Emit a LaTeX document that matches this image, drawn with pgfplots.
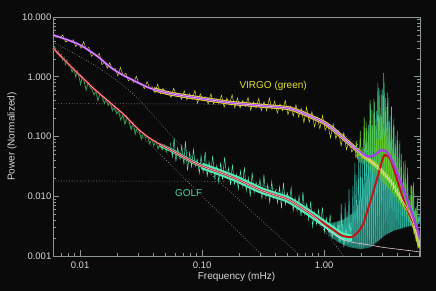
\documentclass[border=0pt]{standalone}
\usepackage{pgfplots}
\pgfplotsset{compat=1.18}
\usepackage{fontspec}
\setmainfont{Liberation Sans}
\definecolor{bg}{RGB}{10,10,10}
\definecolor{axg}{RGB}{140,150,150}
\definecolor{tickt}{RGB}{215,215,215}
\definecolor{golfc}{RGB}{85,235,185}
\definecolor{golfl}{RGB}{70,215,165}
\definecolor{golfg}{RGB}{45,160,85}
\definecolor{virgoy}{RGB}{225,225,45}
\definecolor{purp}{RGB}{165,60,240}
\definecolor{redf}{RGB}{195,20,20}
\definecolor{pinkc}{RGB}{240,195,225}
\definecolor{spkg}{RGB}{100,200,40}
\definecolor{spkt}{RGB}{50,190,170}
\definecolor{dotg}{RGB}{150,150,150}
\begin{document}
\begin{tikzpicture}
\fill[bg] (-53pt,-35pt) rectangle (383pt,256pt);
\begin{axis}[
  scale only axis, width=367pt, height=239pt,
  xmode=log, ymode=log, xmin=0.006, xmax=6.1, ymin=0.001, ymax=10,
  axis line style={draw=axg, line width=0.6pt},
  every tick/.style={draw=axg, line width=0.5pt},
  tick align=inside, xtick pos=left, ytick pos=both,
  major tick length=6pt, minor tick length=3.5pt,
  xtick={0.01,0.1,1}, xticklabels={0.01,0.10,1.00},
  ytick={0.001,0.01,0.1,1,10}, yticklabels={0.001,0.010,0.100,1.000,10.000},
  minor xtick={0.006,0.007,0.008,0.009,0.02,0.03,0.04,0.05,0.06,0.07,0.08,0.09,0.2,0.3,0.4,0.5,0.6,0.7,0.8,0.9,2,3,4,5,6},
  minor ytick={0.002,0.003,0.004,0.005,0.006,0.007,0.008,0.009,0.02,0.03,0.04,0.05,0.06,0.07,0.08,0.09,0.2,0.3,0.4,0.5,0.6,0.7,0.8,0.9,2,3,4,5,6,7,8,9},
  tick label style={font=\fontsize{9.5}{11}\selectfont, text=tickt},
  yticklabel style={inner sep=1.5pt},
  xticklabel style={yshift=-2pt},
  xlabel={Frequency (mHz)}, ylabel={Power (Normalized)},
  label style={font=\fontsize{10}{12}\selectfont, text=tickt},
  xlabel style={at={(axis description cs:0.5,-0.0879)}, anchor=center},
  ylabel style={at={(axis description cs:-0.1117,0.5)}, anchor=center},
]
% Harvey components (dotted)
\addplot[dotg, line width=0.6pt, dash pattern=on 0.7pt off 2pt] coordinates {(0.006,0.355) (0.1,0.351) (0.3,0.323) (0.5,0.279) (0.7,0.232) (1.0,0.170) (1.5,0.103) (2.0,0.0665) (3.0,0.033) (4.0,0.0193) (5.0,0.0126) (6.1,0.0086)};
\addplot[dotg, line width=0.6pt, dash pattern=on 0.7pt off 2pt] coordinates {(0.006,0.018) (0.1,0.0179) (0.2,0.0172) (0.3,0.0156) (0.4,0.0132) (0.5,0.0105) (0.7,0.0061) (0.85,0.0040) (1.04,0.00243) (1.2,0.00166) (1.41,0.00106) (1.45,0.001)};
\addplot[dotg, line width=0.6pt, dash pattern=on 0.7pt off 2pt] coordinates {(0.006,3.0) (0.3,0.0011) (0.31,0.001)};
\addplot[dotg, line width=0.6pt, dash pattern=on 0.7pt off 2pt, smooth] coordinates {(0.006,3.8) (0.0119,1.77) (0.0197,0.88) (0.0305,0.41) (0.0686,0.0667) (0.201,0.00865) (0.601,0.00112) (0.63,0.001)};
% p-mode hump dense region (GOLF)
\addplot[fill=spkt, fill opacity=0.55, draw=none] coordinates {(1.1,0.0022) (1.3,0.0017) (1.6,0.0014) (2.0,0.0013) (2.4,0.0014) (2.8,0.0018) (3.2,0.0023) (3.8,0.0027) (4.5,0.003) (5.3,0.0033) (6.1,0.0035) (6.1,0.004) (5.5,0.0055) (5.0,0.008) (4.5,0.014) (4.1,0.025) (3.8,0.045) (3.5,0.08) (3.2,0.12) (3.0,0.15) (2.8,0.11) (2.6,0.06) (2.4,0.035) (2.2,0.018) (2.0,0.009) (1.8,0.0055) (1.5,0.0042) (1.3,0.0038) (1.1,0.0035)} -- cycle;
% GOLF p-mode spikes
\addplot[spkt, line width=0.5pt] coordinates {(1.307,0.0018) (1.331,0.0039) (1.355,0.0017) (1.380,0.0075) (1.405,0.0017) (1.431,0.0034) (1.459,0.0016) (1.486,0.0078) (1.514,0.0016) (1.542,0.0055) (1.570,0.0015) (1.599,0.0133) (1.630,0.0015) (1.660,0.0051) (1.690,0.0015) (1.721,0.0147) (1.754,0.0014) (1.786,0.036) (1.819,0.0014) (1.853,0.0225) (1.888,0.0014) (1.923,0.064) (1.958,0.0014) (1.995,0.052) (2.032,0.0014) (2.070,0.042) (2.109,0.0014) (2.148,0.14) (2.188,0.0015) (2.228,0.13) (2.269,0.0015) (2.312,0.156) (2.355,0.0015) (2.399,0.35) (2.443,0.0016) (2.488,0.156) (2.535,0.0016) (2.582,0.38) (2.629,0.0017) (2.678,0.265) (2.728,0.0018) (2.779,0.65) (2.831,0.0019) (2.884,0.23) (2.937,0.002) (2.992,0.63) (3.047,0.0021) (3.104,0.8) (3.161,0.0022) (3.220,0.31) (3.280,0.0023) (3.341,0.44) (3.403,0.0024) (3.467,0.22) (3.530,0.0025) (3.596,0.098) (3.663,0.0026) (3.731,0.2) (3.801,0.0027) (3.871,0.104) (3.943,0.0027) (4.017,0.072) (4.090,0.0028) (4.166,0.085) (4.244,0.0028) (4.323,0.026) (4.403,0.0029) (4.485,0.038) (4.569,0.003) (4.654,0.02) (4.740,0.003) (4.828,0.030) (4.918,0.0031) (5.009,0.008) (5.101,0.0032) (5.196,0.015) (5.293,0.0033) (5.391,0.017) (5.492,0.0034) (5.594,0.0063) (5.697,0.0034) (5.803,0.0094) (5.912,0.0035) (6.022,0.0047) (6.133,0.0035)};
% GOLF data low frequency
\addplot[golfg, line width=0.8pt] coordinates {(0.0060,2.8) (0.0062,3.2) (0.0064,2.5) (0.0066,2.7) (0.0068,2.2) (0.0070,2.4) (0.0072,1.9) (0.0074,2.1) (0.0076,1.6) (0.0078,1.9) (0.0080,1.55) (0.0083,1.55) (0.0086,1.2) (0.0089,1.4) (0.0092,1.0) (0.0095,1.25) (0.0098,1.0) (0.0101,0.75) (0.0104,0.98) (0.0108,0.85) (0.0112,0.6) (0.0116,0.78) (0.0120,0.68) (0.0125,0.62) (0.0130,0.5) (0.0135,0.58) (0.0140,0.4) (0.0146,0.52) (0.0152,0.45) (0.0158,0.36) (0.0164,0.42) (0.0170,0.33) (0.0177,0.37) (0.0184,0.27) (0.0191,0.31) (0.0199,0.24) (0.0207,0.27) (0.0215,0.19) (0.0224,0.23) (0.0233,0.16) (0.0242,0.21) (0.0252,0.18) (0.0262,0.13) (0.0272,0.17) (0.0283,0.11) (0.0294,0.14) (0.0306,0.12) (0.0318,0.09) (0.0331,0.115) (0.0344,0.095) (0.0358,0.1) (0.0372,0.075) (0.0387,0.092) (0.0402,0.07) (0.0418,0.085) (0.0435,0.062) (0.0452,0.075) (0.0470,0.06) (0.0489,0.072) (0.0509,0.055) (0.0529,0.068)};
% GOLF data band
\addplot[golfc, line width=3.5pt, smooth] coordinates {(0.045,0.072) (0.055,0.060) (0.078,0.0405) (0.1,0.032) (0.12,0.028)};
\addplot[golfc, line width=6.5pt, smooth] coordinates {(0.1,0.032) (0.14,0.025) (0.2,0.0187) (0.3,0.0127) (0.4,0.0104) (0.516,0.00865) (0.76,0.0052) (1.0,0.0035) (1.2,0.0027) (1.4,0.0022) (1.7,0.0020)};
\addplot[golfc, line width=0.45pt] coordinates {(0.055,0.078) (0.057,0.046) (0.059,0.095) (0.061,0.038) (0.063,0.065) (0.066,0.042) (0.068,0.07) (0.071,0.034) (0.073,0.084) (0.076,0.027) (0.079,0.054) (0.082,0.031) (0.085,0.061) (0.088,0.032) (0.091,0.042) (0.095,0.0245) (0.098,0.048) (0.102,0.0254) (0.106,0.056) (0.110,0.021) (0.114,0.038) (0.118,0.0245) (0.122,0.048) (0.127,0.020) (0.132,0.033) (0.137,0.017) (0.142,0.037) (0.147,0.019) (0.153,0.045) (0.159,0.0207) (0.165,0.030) (0.171,0.0155) (0.177,0.034) (0.184,0.016) (0.191,0.0234) (0.198,0.0132) (0.206,0.0265) (0.214,0.015) (0.222,0.0306) (0.230,0.0123) (0.239,0.0205) (0.248,0.0099) (0.257,0.025) (0.267,0.0114) (0.277,0.0171) (0.287,0.0119) (0.298,0.0192) (0.309,0.009) (0.321,0.0232) (0.333,0.0095) (0.345,0.0157) (0.358,0.0079) (0.372,0.0176) (0.386,0.0091) (0.400,0.0125) (0.415,0.0077) (0.431,0.0144) (0.447,0.0063) (0.464,0.0169) (0.481,0.0073) (0.499,0.0114) (0.518,0.0077) (0.537,0.0139) (0.557,0.0057) (0.578,0.0094) (0.600,0.0057) (0.623,0.0102) (0.646,0.0046) (0.670,0.0118) (0.695,0.005) (0.721,0.0076) (0.748,0.004) (0.776,0.0082) (0.805,0.0031) (0.835,0.0054) (0.866,0.0034) (0.899,0.0059) (0.933,0.0034) (0.968,0.0065) (1.004,0.0025) (1.042,0.0043) (1.081,0.0025) (1.121,0.0049) (1.163,0.002) (1.207,0.0034) (1.252,0.0021) (1.299,0.0036) (1.348,0.0017) (1.398,0.0042) (1.451,0.0014) (1.505,0.0028) (1.561,0.0017) (1.620,0.0034) (1.681,0.0019)};
% VIRGO data band
\addplot[virgoy, line width=4pt, smooth] coordinates {(0.04,0.62) (0.053,0.53) (0.075,0.47) (0.1,0.43) (0.165,0.37) (0.25,0.34) (0.35,0.32) (0.5,0.30) (0.63,0.26) (0.8,0.21) (1.0,0.17) (1.2,0.13) (1.5,0.087) (1.8,0.063) (2.04,0.05) (2.35,0.040) (2.7,0.032) (3.0,0.0255) (3.5,0.018) (3.9,0.0126) (4.7,0.0066) (5.3,0.004) (6.1,0.0014)};
\addplot[virgoy, line width=0.45pt] coordinates {(0.0060,5.3) (0.0063,4.6) (0.0066,4.6) (0.0069,4.55) (0.0072,5.0) (0.0076,3.8) (0.0080,4.05) (0.0084,4.0) (0.0088,4.15) (0.0092,3.2) (0.0097,3.6) (0.0102,3.0) (0.0107,3.85) (0.0112,2.86) (0.0118,3.1) (0.0124,2.2) (0.0130,2.4) (0.0137,2.15) (0.0144,2.45) (0.0151,1.6) (0.0159,1.75) (0.0167,1.4) (0.0175,1.72) (0.0184,1.32) (0.0194,1.38) (0.0204,1.03) (0.0214,1.43) (0.0225,1.06) (0.0237,1.15) (0.0249,0.85) (0.0262,0.94) (0.0275,0.8) (0.0289,1.02) (0.0304,0.76) (0.0320,0.77) (0.0336,0.63) (0.0354,0.83) (0.0372,0.65) (0.0391,0.68) (0.0411,0.54) (0.0432,0.75) (0.0455,0.52) (0.0478,0.64) (0.0503,0.52) (0.0529,0.57) (0.0556,0.45) (0.0584,0.64) (0.0614,0.49) (0.0646,0.52) (0.0679,0.42) (0.0714,0.58) (0.0751,0.41) (0.0790,0.52) (0.0830,0.42) (0.0873,0.59) (0.0918,0.36) (0.0965,0.52) (0.1015,0.4) (0.1067,0.46) (0.1122,0.35) (0.1180,0.52) (0.1240,0.35) (0.1304,0.43) (0.1371,0.36) (0.1442,0.49) (0.1516,0.31) (0.1594,0.44) (0.1676,0.345) (0.1762,0.5) (0.1853,0.3) (0.1948,0.44) (0.2048,0.3) (0.2153,0.4) (0.2264,0.32) (0.2381,0.45) (0.2503,0.275) (0.2632,0.38) (0.2767,0.3) (0.2910,0.43) (0.3059,0.27) (0.3217,0.38) (0.3382,0.27) (0.3556,0.44) (0.3739,0.285) (0.3931,0.39) (0.4133,0.247) (0.4346,0.35) (0.4570,0.27) (0.4805,0.4) (0.5052,0.233) (0.5312,0.32) (0.5585,0.22) (0.5872,0.34) (0.6174,0.212) (0.6492,0.295) (0.6826,0.171) (0.7177,0.31) (0.7546,0.173) (0.7935,0.26) (0.8343,0.146) (0.8772,0.21) (0.9224,0.135) (0.9698,0.225) (1.0197,0.127) (1.0722,0.162) (1.1274,0.095) (1.1854,0.161) (1.2464,0.092) (1.3105,0.124) (1.3779,0.07) (1.4488,0.115) (1.5233,0.06) (1.6017,0.085) (1.6841,0.055) (1.7707,0.066) (1.8618,0.044) (1.9576,0.064) (2.0583,0.042)};
% VIRGO p-mode spikes
\addplot[spkg, line width=0.5pt] coordinates {(1.803,0.044) (1.837,0.085) (1.871,0.041) (1.906,0.06) (1.941,0.037) (1.977,0.124) (2.014,0.036) (2.051,0.066) (2.090,0.034) (2.129,0.216) (2.168,0.032) (2.208,0.174) (2.249,0.030) (2.291,0.14) (2.334,0.028) (2.377,0.41) (2.421,0.027) (2.466,0.275) (2.512,0.025) (2.559,0.43) (2.606,0.024) (2.654,0.2) (2.704,0.022) (2.754,0.8) (2.806,0.021) (2.858,0.6) (2.911,0.019) (2.965,0.5) (3.020,0.0175) (3.076,1.15) (3.133,0.016) (3.191,0.44) (3.251,0.015) (3.311,0.54) (3.373,0.0135) (3.436,0.175) (3.499,0.0126) (3.564,0.32) (3.630,0.0113) (3.698,0.156) (3.767,0.0101) (3.837,0.076) (3.908,0.0088) (3.981,0.124) (4.054,0.0078) (4.129,0.052) (4.206,0.007) (4.284,0.051) (4.364,0.0062) (4.445,0.015) (4.528,0.0055) (4.612,0.04) (4.698,0.0046) (4.785,0.0195) (4.874,0.0042) (4.965,0.0104) (5.056,0.0036) (5.150,0.0153) (5.246,0.003) (5.343,0.014) (5.443,0.0023) (5.544,0.0055) (5.647,0.0018) (5.752,0.0068) (5.859,0.0013) (5.968,0.0023) (6.078,0.001)};
% fits
\addplot[redf, line width=2pt, smooth] coordinates {(0.006,3.0) (0.008,1.65) (0.010,1.05) (0.013,0.63) (0.0173,0.38) (0.023,0.23) (0.0305,0.128) (0.04,0.085) (0.055,0.060) (0.078,0.0405) (0.1,0.032) (0.14,0.025) (0.2,0.0187) (0.3,0.0127) (0.4,0.0104) (0.516,0.00865) (0.76,0.0052) (1.0,0.0035) (1.2,0.0027) (1.4,0.0022) (1.7,0.0021) (2.04,0.0031) (2.25,0.0055) (2.46,0.0098) (2.8,0.0245) (3.05,0.045) (3.2,0.049) (3.5,0.041) (3.9,0.021) (4.7,0.0066) (5.6,0.0031) (6.1,0.0025)};
\addplot[purp, line width=2.2pt, smooth] coordinates {(0.006,5.0) (0.008,4.1) (0.010,3.4) (0.012,2.7) (0.0143,2.1) (0.0173,1.5) (0.021,1.15) (0.027,0.88) (0.037,0.65) (0.053,0.53) (0.075,0.47) (0.1,0.43) (0.165,0.37) (0.25,0.34) (0.35,0.32) (0.5,0.30) (0.63,0.26) (0.8,0.21) (1.0,0.17) (1.2,0.13) (1.5,0.087) (1.8,0.063) (2.04,0.052) (2.2,0.047) (2.35,0.046) (2.55,0.048) (2.75,0.054) (2.95,0.059) (3.1,0.058) (3.3,0.054) (3.5,0.045) (3.9,0.027) (4.3,0.016) (4.7,0.0098) (5.6,0.0035) (6.1,0.0019)};
% background fits (thin)
\addplot[pinkc, line width=0.6pt, smooth] coordinates {(0.006,3.0) (0.008,1.65) (0.010,1.05) (0.013,0.63) (0.0173,0.38) (0.023,0.23) (0.0305,0.128) (0.04,0.085) (0.055,0.060) (0.078,0.0405) (0.1,0.032) (0.14,0.025) (0.2,0.0187) (0.3,0.0127) (0.4,0.0104) (0.516,0.00865) (0.76,0.0052) (0.88,0.0041) (1.0,0.0032) (1.1,0.0026) (1.25,0.0022) (1.4,0.0019) (1.7,0.0017) (2.04,0.0016) (2.5,0.0015) (3.0,0.0014) (4.0,0.0013) (5.0,0.00123) (6.1,0.00117)};
\addplot[pinkc, line width=0.6pt, smooth] coordinates {(0.006,5.0) (0.008,4.1) (0.010,3.4) (0.012,2.7) (0.0143,2.1) (0.0173,1.5) (0.021,1.15) (0.027,0.88) (0.037,0.65) (0.053,0.53) (0.075,0.47) (0.1,0.43) (0.165,0.37) (0.25,0.34) (0.35,0.32) (0.5,0.30) (0.63,0.26) (0.8,0.21) (1.0,0.17) (1.2,0.13) (1.5,0.087) (1.8,0.063) (2.04,0.05) (2.35,0.040) (2.7,0.032) (3.0,0.0255) (3.5,0.018) (3.9,0.0126) (4.7,0.0066) (5.3,0.004) (6.1,0.0014)};
\node[font=\fontsize{10}{12}\selectfont, text=virgoy] at (axis cs:0.382,0.70) {VIRGO (green)};
\node[font=\fontsize{10}{12}\selectfont, text=golfl] at (axis cs:0.0776,0.0113) {GOLF};
\end{axis}
\pgfresetboundingbox
\path[use as bounding box] (-53pt,-35pt) rectangle (383pt,256pt);
\end{tikzpicture}
\end{document}
